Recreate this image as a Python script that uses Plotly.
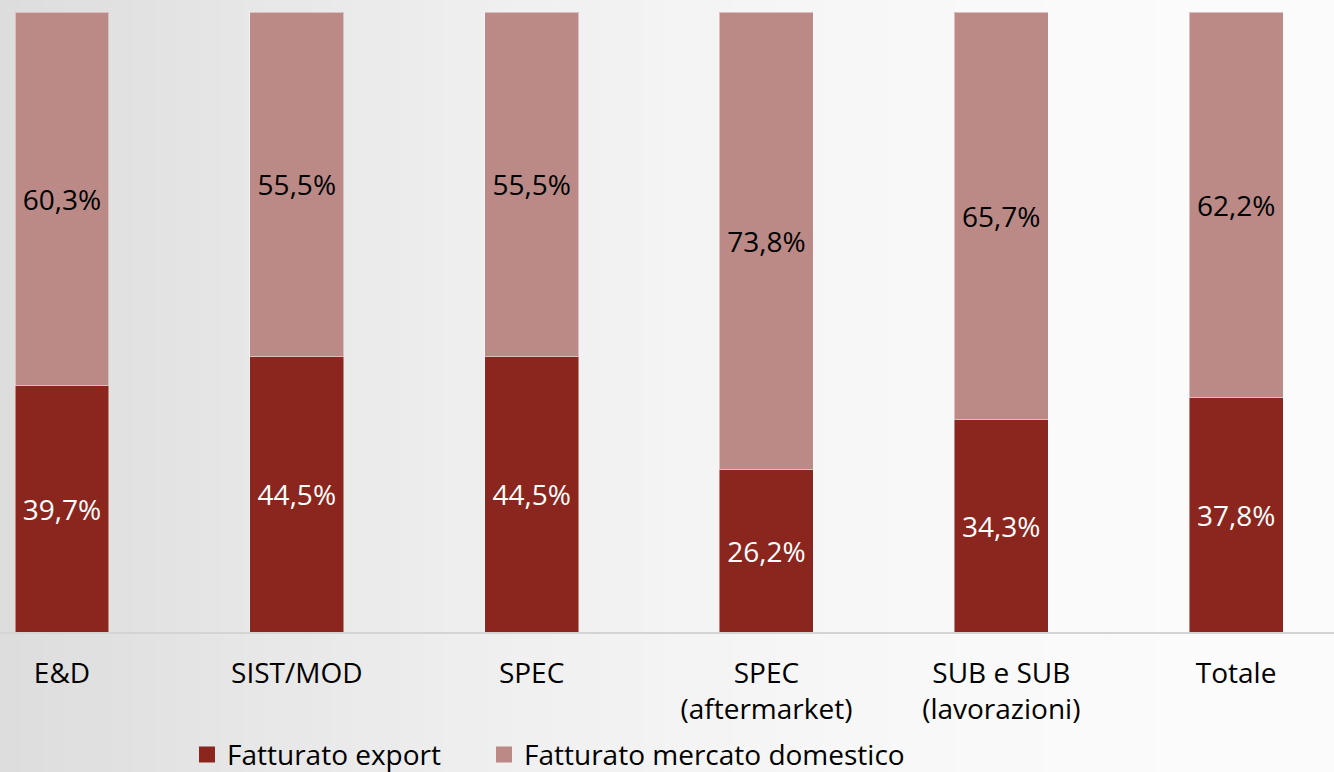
import plotly.graph_objects as go

# categories and values (percent)
categories = ["E&D", "SIST/MOD", "SPEC", "SPEC<br>(aftermarket)", "SUB e SUB<br>(lavorazioni)", "Totale"]
export_pct = [39.7, 44.5, 44.5, 26.2, 34.3, 37.8]
domestic_pct = [60.3, 55.5, 55.5, 73.8, 65.7, 62.2]
series_names = ["Fatturato export", "Fatturato mercato domestico"]
colors = ["#8b261e", "#bb8a87"]


def fmt(v):
    return f"{v:.1f}%".replace(".", ",")


FONT = "Open Sans"
x = list(range(len(categories)))

fig = go.Figure()
for vals, name, col, tcol in [(export_pct, series_names[0], colors[0], "white"),
                              (domestic_pct, series_names[1], colors[1], "black")]:
    fig.add_trace(go.Bar(
        x=x, y=vals, name=name, showlegend=False,
        marker=dict(color=col, line=dict(color="rgba(255,255,255,0.45)", width=1)),
        text=[fmt(v) for v in vals], textposition="inside",
        insidetextanchor="middle", textangle=0,
        textfont=dict(family=FONT, size=28, color=tcol),
        width=0.4, hoverinfo="skip",
    ))

# legend entries with bigger square swatches, one legend box each to set spacing
for name, col, lg in zip(series_names, colors, ["legend", "legend2"]):
    fig.add_trace(go.Scatter(
        x=[None], y=[None], mode="markers", name=name, legend=lg,
        marker=dict(symbol="square", size=16, color=col),
    ))

# slide-like grey gradient background (light at right, darker at left)
shapes = []
n = 60
for i in range(n):
    t = (i + 0.5) / n
    g = int(round(220 + 31 * (1 - (1 - t) ** 2)))
    shapes.append(dict(
        type="rect", xref="paper", yref="paper",
        x0=i / n - 0.001, x1=(i + 1) / n + 0.001, y0=-0.3, y1=1.1,
        fillcolor=f"rgb({g},{g},{g})", line=dict(width=0), layer="below",
    ))

leg_common = dict(
    orientation="h", xanchor="left", y=-0.198, yanchor="middle",
    font=dict(family=FONT, size=28, color="black"),
    bgcolor="rgba(0,0,0,0)", itemwidth=30,
)

fig.update_layout(
    width=1334, height=772,
    barmode="stack",
    margin=dict(l=0, r=0, t=12, b=140, autoexpand=False),
    paper_bgcolor="#e8e8e8", plot_bgcolor="rgba(0,0,0,0)",
    shapes=shapes,
    font=dict(family=FONT, size=28, color="black"),
    xaxis=dict(
        range=[-0.264, 5.417], tickvals=x, ticktext=categories,
        showgrid=False, zeroline=False,
        showline=True, linecolor="#d4d4d4", linewidth=2,
        ticks="", ticklabelstandoff=15, automargin=False,
        tickfont=dict(family=FONT, size=28, color="black"),
        fixedrange=True,
    ),
    yaxis=dict(range=[0, 100], visible=False, fixedrange=True),
    legend=dict(x=187 / 1334, **leg_common),
    legend2=dict(x=484 / 1334, **leg_common),
    showlegend=True,
)

fig.write_html("out.html", config={"displayModeBar": False},
               post_script="document.body.style.margin='0';")
